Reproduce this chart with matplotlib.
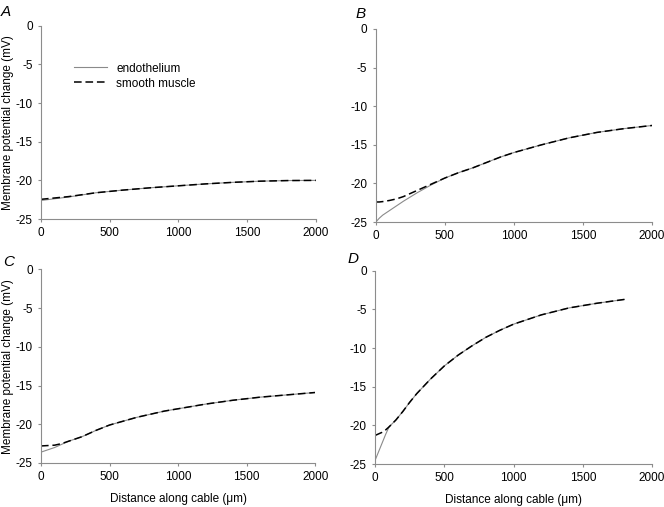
import matplotlib
matplotlib.use('Agg')
from matplotlib import pyplot as plt

plt.rcParams['font.family'] = ['Liberation Sans', 'DejaVu Sans']
plt.rcParams['axes.unicode_minus'] = False

# panel A
a_x = [0, 200, 400, 600, 800, 1000, 1200, 1400, 1600, 1800, 2000]
a_endo = [-22.6, -22.15, -21.6, -21.25, -20.95, -20.7, -20.45, -20.25, -20.1, -20.02, -20.0]
a_smooth = [-22.45, -22.1, -21.6, -21.25, -20.95, -20.7, -20.45, -20.25, -20.1, -20.02, -20.0]

# panel B
b_x = [0, 25, 50, 100, 150, 200, 300, 400, 500, 600, 700, 800, 900, 1000, 1200, 1400, 1600, 1800, 2000]
b_endo = [-25.0, -24.5, -24.1, -23.5, -22.9, -22.3, -21.2, -20.2, -19.3, -18.6, -18.0, -17.3, -16.6,
          -16.0, -15.0, -14.1, -13.4, -12.9, -12.5]
b_smooth = [-22.4, -22.4, -22.35, -22.2, -22.0, -21.7, -20.9, -20.1, -19.3, -18.6, -18.0, -17.3, -16.6,
            -16.0, -15.0, -14.1, -13.4, -12.9, -12.5]

# panel C
c_x = [0, 50, 100, 150, 200, 300, 400, 500, 600, 700, 800, 900, 1000, 1200, 1400, 1600, 1800, 2000]
c_endo = [-23.6, -23.3, -23.0, -22.6, -22.2, -21.6, -20.8, -20.1, -19.6, -19.1, -18.7, -18.3, -18.0,
          -17.4, -16.9, -16.5, -16.2, -15.9]
c_smooth = [-22.8, -22.75, -22.7, -22.5, -22.2, -21.6, -20.8, -20.1, -19.6, -19.1, -18.7, -18.3, -18.0,
            -17.4, -16.9, -16.5, -16.2, -15.9]

# panel D
d_x = [0, 25, 50, 75, 100, 150, 200, 250, 300, 400, 500, 600, 700, 800, 900, 1000, 1200, 1400, 1600, 1800]
d_endo = [-24.5, -23.4, -22.3, -21.2, -20.2, -19.3, -18.2, -17.0, -15.9, -14.0, -12.3, -10.9, -9.7, -8.6,
          -7.7, -6.9, -5.7, -4.8, -4.2, -3.7]
d_smooth = [-21.3, -21.1, -20.9, -20.6, -20.2, -19.3, -18.2, -17.0, -15.9, -14.0, -12.3, -10.9, -9.7, -8.6,
            -7.7, -6.9, -5.7, -4.8, -4.2, -3.7]

panels = [
    ('A', a_x, a_endo, a_smooth, [0.0617, 0.568, 0.414, 0.381]),
    ('B', b_x, b_endo, b_smooth, [0.566, 0.562, 0.416, 0.381]),
    ('C', c_x, c_endo, c_smooth, [0.0617, 0.0868, 0.413, 0.382]),
    ('D', d_x, d_endo, d_smooth, [0.565, 0.0848, 0.417, 0.381]),
]
label_pos = {'A': (1, 12), 'B': (356, 14), 'C': (3, 262), 'D': (348, 259)}

fig = plt.figure(figsize=(6.64, 5.07), dpi=100)
for label, x, endo, smooth, rect in panels:
    ax = fig.add_axes(rect)
    ax.plot(x, endo, color='#8a8a8a', lw=0.8, label='endothelium')
    ax.plot(x, smooth, color='black', lw=1.1, linestyle=(0, (5, 2.5)), label='smooth muscle')
    ax.set_xlim(0, 2000)
    ax.set_ylim(-25, 0)
    ax.set_xticks([0, 500, 1000, 1500, 2000])
    ax.set_yticks([0, -5, -10, -15, -20, -25])
    for side in ['top', 'right']:
        ax.spines[side].set_visible(False)
    for side in ['left', 'bottom']:
        ax.spines[side].set_color('#8c8c8c')
        ax.spines[side].set_linewidth(0.8)
    ax.tick_params(direction='out', length=2, width=0.8, color='#8c8c8c', labelsize=8.5, pad=4)
    if label in ('A', 'C'):
        ax.set_ylabel('Membrane potential change (mV)', fontsize=8.5, labelpad=1)
    if label in ('C', 'D'):
        ax.set_xlabel('Distance along cable (\u03bcm)', fontsize=8.5, labelpad=7)
    if label == 'A':
        ax.legend(loc='upper left', bbox_to_anchor=(0.12, 0.81), frameon=False, fontsize=8.5,
                  handlelength=2.8, handletextpad=0.8, labelspacing=0.25, borderpad=0, borderaxespad=0)
    px, py = label_pos[label]
    fig.text(px / 664, 1 - py / 507, label, fontsize=11, style='italic', ha='left', va='center')

plt.savefig('out.png', dpi=100)
